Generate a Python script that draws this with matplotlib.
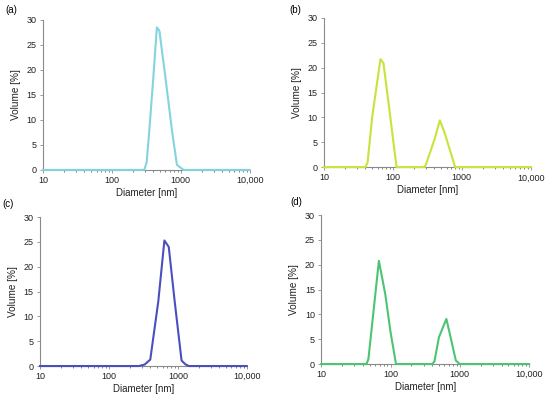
import matplotlib.pyplot as plt
from matplotlib.ticker import FixedLocator, FixedFormatter, LogLocator, NullFormatter

plt.rcParams['font.family'] = ['Liberation Sans', 'DejaVu Sans']

# Particle size distributions (diameter in nm, volume in %)
a_diam = [10, 295, 320, 350, 400, 450, 490, 600, 750, 880, 1100, 10000]
a_vol = [0, 0, 1.5, 8, 18.5, 28.5, 27.8, 18.4, 7.6, 1.0, 0, 0]

b_diam = [10, 40, 43, 50, 66, 73, 90, 113, 290, 310, 400, 480, 560, 800, 10000]
b_vol = [0, 0, 1.0, 10, 21.7, 20.9, 11, 0, 0, 1.0, 5.5, 9.4, 7, 0, 0]

c_diam = [10, 270, 330, 398, 520, 638, 738, 900, 1132, 1300, 1450, 10000]
c_vol = [0, 0, 0.3, 1.3, 13, 25.3, 24, 13, 1.1, 0.3, 0, 0]

d_diam = [10, 45, 48, 68, 84, 100, 120, 400, 430, 500, 640, 720, 877, 1000, 10000]
d_vol = [0, 0, 1.0, 20.8, 14.1, 6.5, 0, 0, 0.5, 5.4, 9.1, 6, 0.7, 0, 0]

panels = [
    ('(a)', a_diam, a_vol, '#84d4dd', [0.078, 0.572, 0.376, 0.378], (-0.18, 1.067)),
    ('(b)', b_diam, b_vol, '#c6e43a', [0.589, 0.579, 0.376, 0.376], (-0.165, 1.055)),
    ('(c)', c_diam, c_vol, '#4a4fc0', [0.0727, 0.078, 0.376, 0.375], (-0.18, 1.09)),
    ('(d)', d_diam, d_vol, '#4cc472', [0.584, 0.083, 0.378, 0.375], (-0.15, 1.09)),
]

x_ticks = [10, 100, 1000, 10000]
x_labels = ['10', '100', '1000', '10,000']
y_ticks = [0, 5, 10, 15, 20, 25, 30]

fig = plt.figure(figsize=(5.5, 3.97), dpi=100)

for tag, diam, vol, color, pos, tag_xy in panels:
    ax = fig.add_axes(pos)
    ax.plot(diam, vol, color=color, lw=1.5, zorder=3, clip_on=False)
    ax.set_xscale('log')
    ax.set_xlim(10, 10000)
    ax.set_ylim(0, 30)
    ax.xaxis.set_major_locator(FixedLocator(x_ticks))
    ax.xaxis.set_major_formatter(FixedFormatter(x_labels))
    ax.xaxis.set_minor_locator(LogLocator(base=10, subs=range(2, 10)))
    ax.xaxis.set_minor_formatter(NullFormatter())
    ax.set_yticks(y_ticks)
    for s in ['top', 'right']:
        ax.spines[s].set_visible(False)
    for s in ['left', 'bottom']:
        ax.spines[s].set_color('#8a8a8a')
        ax.spines[s].set_linewidth(0.8)
    ax.tick_params(axis='both', which='major', length=2.5, width=0.6,
                   color='#8a8a8a', labelsize=6.5, pad=2, labelcolor='#222222')
    ax.tick_params(axis='x', which='minor', length=1.5, width=0.5, color='#555555')
    ax.set_xlabel('Diameter [nm]', fontsize=7, labelpad=2, color='#222222')
    ax.set_ylabel('Volume [%]', fontsize=7.2, labelpad=4, color='#222222')
    ax.text(tag_xy[0], tag_xy[1], tag, transform=ax.transAxes, fontsize=7,
            ha='left', va='center')

fig.savefig('out.png', dpi=100)
